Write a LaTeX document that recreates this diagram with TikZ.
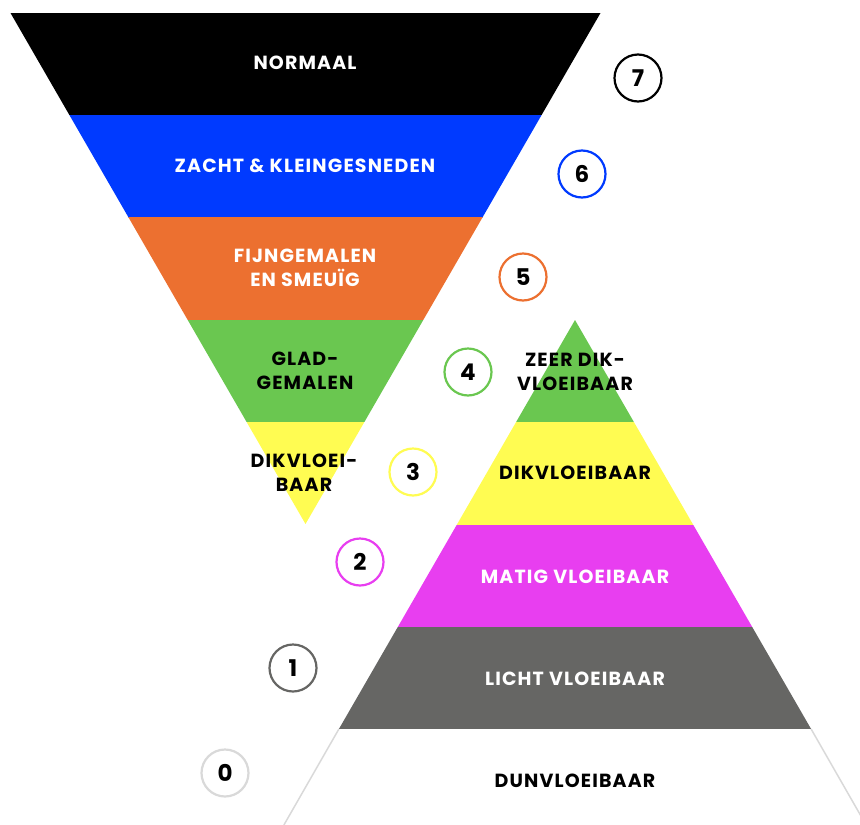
\documentclass[tikz,border=0pt]{standalone}
\usepackage{fontspec}
\setmainfont{Poppins}
\newfontfamily\lblfont{Poppins}[LetterSpace=6]
\usetikzlibrary{positioning}
\definecolor{lvlblack}{RGB}{0,0,0}
\definecolor{lvlblue}{RGB}{0,58,255}
\definecolor{lvlorange}{RGB}{236,112,48}
\definecolor{lvlgreen}{RGB}{106,199,80}
\definecolor{lvlyellow}{RGB}{255,252,82}
\definecolor{lvlpink}{RGB}{232,62,240}
\definecolor{lvlgray}{RGB}{102,102,100}
\definecolor{lvlline}{RGB}{217,217,217}
\tikzset{
  lbl/.style={font=\lblfont\fontsize{19}{24}\selectfont\bfseries, align=center, inner sep=0pt},
  numring/.style={circle, draw=#1, line width=2.2pt, minimum size=47pt, inner sep=0pt,
    font=\fontsize{23}{23}\selectfont\bfseries, fill=white},
}
\begin{document}
\begin{tikzpicture}[x=1pt, y=-1pt]
    \useasboundingbox (0,0) rectangle (860,825);
    % corners of both triangles
    \coordinate (foodl) at (10.5,13);
    \coordinate (foodr) at (600.5,13);
    \coordinate (foodtip) at (305.5,524);
    \coordinate (drinktip) at (575,320);
    \coordinate (drinkl) at (338.9,729);
    \coordinate (drinkr) at (811.1,729);
    \coordinate (drinkbl) at (283.9,825);
    \coordinate (drinkbr) at (866.1,825);

    % Food levels (upside down)
    \begin{scope}
        \clip (foodl) -- (foodr) -- (foodtip) -- cycle;
        \foreach \i/\col in {0/lvlblack, 1/lvlblue, 2/lvlorange, 3/lvlgreen, 4/lvlyellow} {
            \pgfmathsetmacro\ytop{13+\i*102.2}
            \fill[\col] (0,\ytop) rectangle (860,\ytop+102.3);
        }
    \end{scope}

    % Drink levels
    \begin{scope}
        \clip (drinktip) -- (drinkr) -- (drinkl) -- cycle;
        \foreach \i/\col in {0/lvlgreen, 1/lvlyellow, 2/lvlpink, 3/lvlgray} {
            \pgfmathsetmacro\ytop{320+\i*102.25}
            \fill[\col] (0,\ytop) rectangle (860,\ytop+102.35);
        }
    \end{scope}
    \begin{scope}
        \clip (0,0) rectangle (860,825);
        \draw[lvlline, line width=1.5pt] (drinkl) -- (drinkbl);
        \draw[lvlline, line width=1.5pt] (drinkr) -- (drinkbr);
    \end{scope}

    % Labels
    \node[lbl, text=white] (normaal) at (305,63) {NORMAAL};
    \node[lbl, text=white] (zacht) at (305,166) {ZACHT \& KLEINGESNEDEN};
    \node[lbl, text=white] (fijn) at (305,268) {FIJNGEMALEN\\EN SMEUÏG};
    \node[lbl] (glad) at (305,371) {GLAD-\\GEMALEN};
    \node[lbl] (dikfood) at (304,473) {DIKVLOEI-\\BAAR};
    \node[lbl] (zeerdik) at (575,372) {ZEER DIK-\\VLOEIBAAR};
    \node[lbl] (dikdrink) at (575,473) {DIKVLOEIBAAR};
    \node[lbl, text=white] (matig) at (575,577) {MATIG VLOEIBAAR};
    \node[lbl, text=white] (licht) at (575,679) {LICHT VLOEIBAAR};
    \node[lbl] (dun) at (575,781) {DUNVLOEIBAAR};

    % Level numbers
    \foreach \n/\x/\y/\col in {7/638/78/lvlblack, 6/582/174/lvlblue, 5/523/277/lvlorange,
        4/468/372/lvlgreen, 3/413/472/lvlyellow, 2/360/562/lvlpink, 1/293/668/lvlgray,
        0/225/773/lvlline} {
        \node[numring=\col] (ring\n) at (\x,\y) {\n};
    }
\end{tikzpicture}
\end{document}
